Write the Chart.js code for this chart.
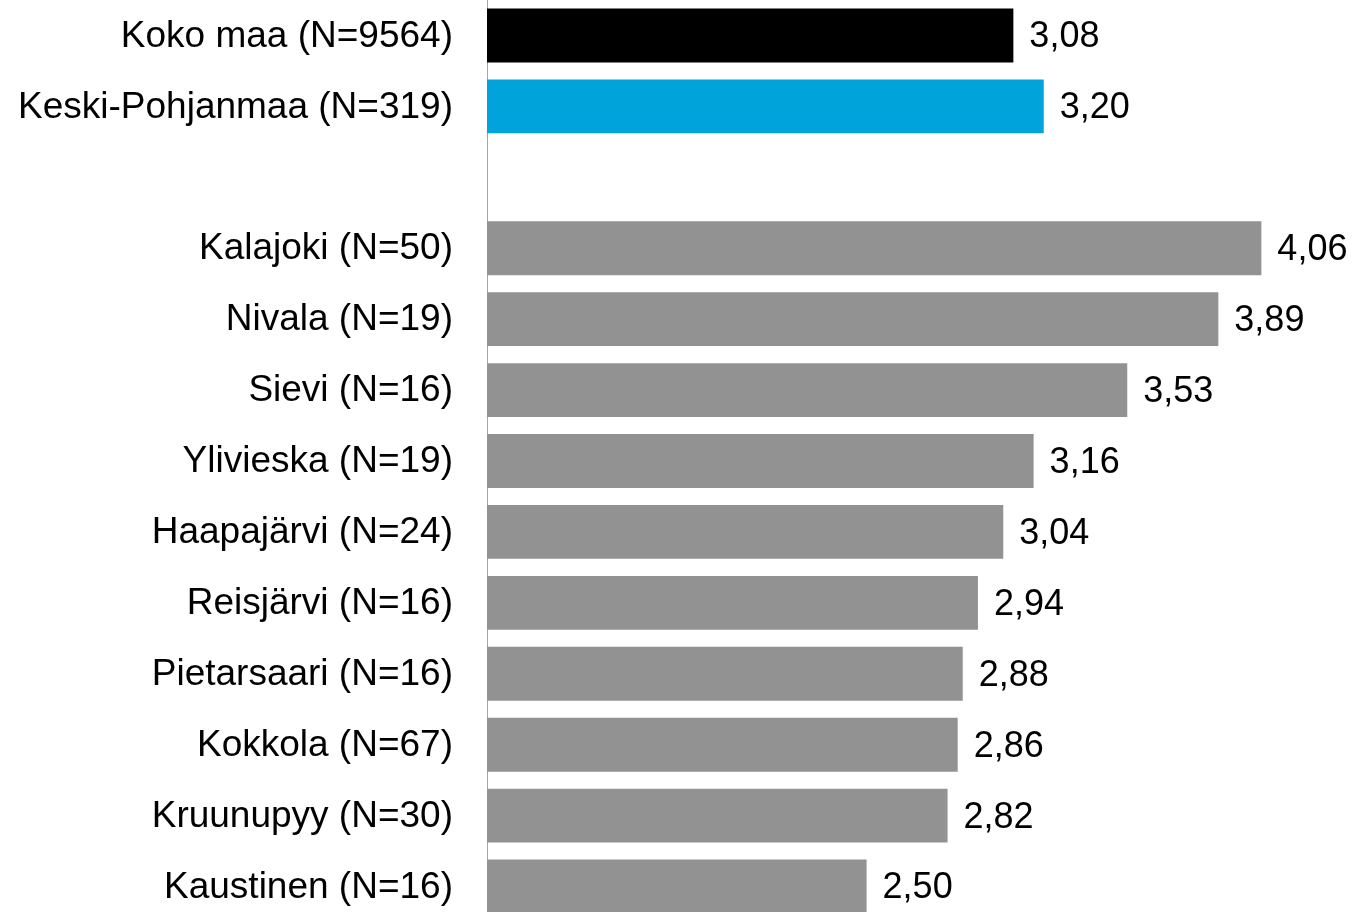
<!DOCTYPE html>
<html>
<head>
<meta charset="utf-8">
<script src="https://cdn.jsdelivr.net/npm/chart.js@4/dist/chart.umd.min.js"></script>
<style>
html,body{margin:0;padding:0;background:#fff;overflow:hidden;}
#wrap{width:1355px;height:922px;position:relative;}
</style>
</head>
<body>
<div id="wrap"><canvas id="c" width="1355" height="922"></canvas></div>
<script>
const categories = [
  'Koko maa (N=9564)',
  'Keski-Pohjanmaa (N=319)',
  '',
  'Kalajoki (N=50)',
  'Nivala (N=19)',
  'Sievi (N=16)',
  'Ylivieska (N=19)',
  'Haapajärvi (N=24)',
  'Reisjärvi (N=16)',
  'Pietarsaari (N=16)',
  'Kokkola (N=67)',
  'Kruunupyy (N=30)',
  'Kaustinen (N=16)'
];
const values = [3.08, 3.20, null, 4.06, 3.89, 3.53, 3.16, 3.04, 2.94, 2.88, 2.86, 2.82, 2.50];
const barColors = ['#000000', '#00a3da', '#ffffff', '#929292', '#929292', '#929292', '#929292', '#929292', '#929292', '#929292', '#929292', '#929292', '#929292'];

const FONT = '"Liberation Sans", Arial, sans-serif';

const labelsPlugin = {
  id: 'labelsPlugin',
  afterDatasetsDraw(chart) {
    const ctx = chart.ctx;
    const meta = chart.getDatasetMeta(0);
    const yScale = chart.scales.y;
    ctx.save();
    // category labels
    ctx.font = '37px ' + FONT;
    ctx.fillStyle = '#000';
    ctx.textAlign = 'right';
    ctx.textBaseline = 'middle';
    categories.forEach((c, i) => {
      ctx.fillText(c, yScale.right - 34, yScale.getPixelForTick(i) + 1);
    });
    // value labels
    ctx.font = '36px ' + FONT;
    ctx.textAlign = 'left';
    meta.data.forEach((bar, i) => {
      const v = values[i];
      if (v === null || v === undefined) return;
      ctx.fillText(v.toFixed(2).replace('.', ','), bar.x + 16, bar.y + 2);
    });
    ctx.restore();
  }
};

new Chart(document.getElementById('c'), {
  type: 'bar',
  data: {
    labels: categories,
    datasets: [{
      data: values,
      backgroundColor: barColors,
      borderWidth: 0,
      categoryPercentage: 0.76,
      barPercentage: 1.0
    }]
  },
  options: {
    indexAxis: 'y',
    responsive: false,
    animation: false,
    layout: { padding: 0 },
    plugins: { legend: { display: false }, tooltip: { enabled: false } },
    scales: {
      x: {
        display: false,
        min: 1,
        max: 4.43
      },
      y: {
        grid: { display: false, drawTicks: false },
        border: { display: true, color: '#a6a6a6', width: 1 },
        ticks: { display: false, autoSkip: false },
        afterFit(scale) { scale.width = 487; }
      }
    }
  },
  plugins: [labelsPlugin]
});
</script>
</body>
</html>
